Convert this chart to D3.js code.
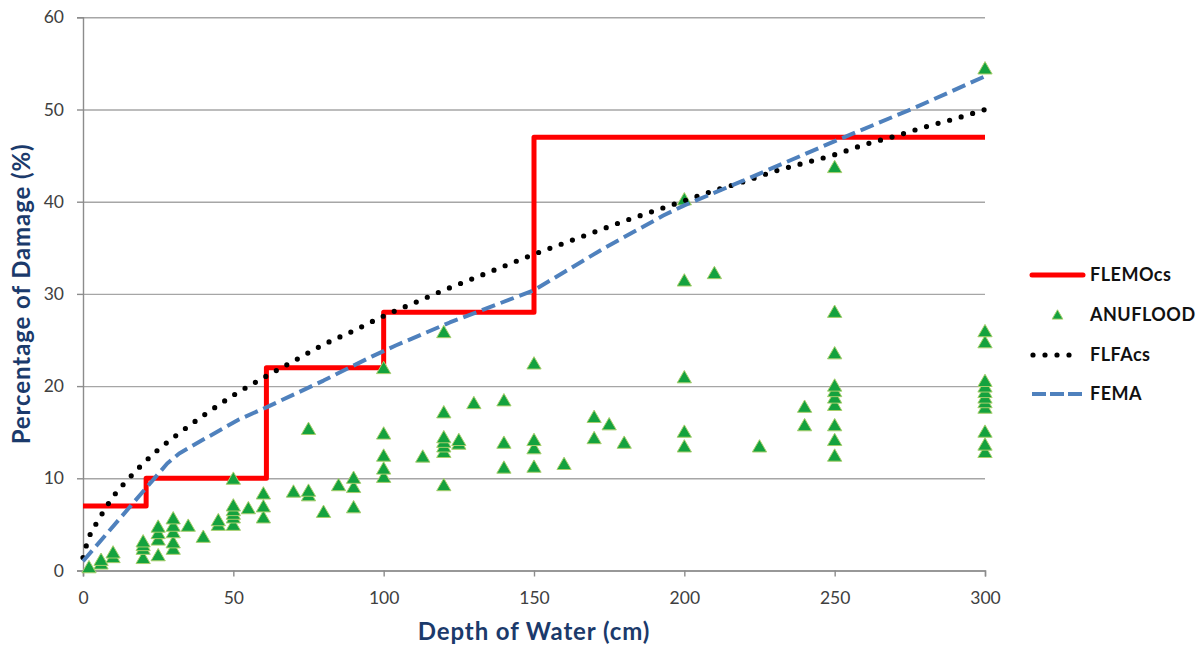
<!DOCTYPE html>
<html>
<head>
<meta charset="utf-8">
<script src="https://cdn.jsdelivr.net/npm/d3@7"></script>
<style>
  html, body { margin: 0; padding: 0; background: #fff; }
  svg { display: block; font-family: Lato, "Open Sans", sans-serif; }
</style>
</head>
<body>
<svg id="chart" width="1203" height="648"></svg>
<script>
// ---------- data ----------
const xTicks = [0, 50, 100, 150, 200, 250, 300];
const yTicks = [0, 10, 20, 30, 40, 50, 60];

// FLEMOcs step function (depth cm, damage %)
const flemoDepth  = [0, 21, 21, 61, 61, 100, 100, 150, 150, 300];
const flemoDamage = [7, 7, 10, 10, 22, 22, 28, 28, 47, 47];

// ANUFLOOD observed points
const anuDepth = [
  2, 6, 6, 10, 10,
  20, 20, 20, 20,
  25, 25, 25, 25,
  30, 30, 30, 30, 30,
  35, 40, 45, 45,
  50, 50, 50, 50, 50, 50,
  55, 60, 60, 60,
  70, 75, 75, 75, 80, 85, 90, 90, 90,
  100, 100, 100, 100, 100,
  113,
  120, 120, 120, 120, 120, 120, 120,
  125, 125, 130,
  140, 140, 140,
  150, 150, 150, 150,
  160, 170, 170, 175, 180,
  200, 200, 200, 200, 200,
  210, 225, 240, 240,
  250, 250, 250, 250, 250, 250, 250, 250, 250, 250,
  300, 300, 300, 300, 300, 300, 300, 300, 300, 300, 300, 300
];
const anuDamage = [
  0.2, 0.6, 1.0, 1.3, 1.8,
  1.2, 2.2, 2.6, 3.0,
  1.5, 3.2, 3.9, 4.6,
  2.2, 2.9, 4.0, 4.7, 5.5,
  4.7, 3.5, 4.8, 5.3,
  4.8, 5.6, 6.0, 6.4, 6.9, 9.8,
  6.6, 5.6, 6.8, 8.2,
  8.4, 8.0, 8.5, 15.2, 6.2, 9.1, 6.7, 8.9, 9.9,
  10.0, 10.9, 12.3, 14.7, 21.8,
  12.2,
  9.1, 12.7, 13.3, 13.8, 14.3, 17.0, 25.7,
  13.6, 14.0, 18.0,
  11.0, 13.7, 18.3,
  11.1, 13.1, 14.0, 22.3,
  11.4, 14.2, 16.5, 15.7, 13.7,
  13.3, 14.9, 20.8, 31.3, 40.1,
  32.1, 13.3, 15.6, 17.6,
  12.3, 14.0, 15.6, 17.8, 18.6, 19.3, 19.9, 23.4, 27.9, 43.6,
  12.7, 13.5, 14.9, 17.5, 18.1, 18.6, 19.2, 19.8, 20.4, 24.6, 25.8, 54.3
];

// FLFAcs curve
const flfaDepth = [0, 2, 5, 10, 15, 20, 25, 30, 40, 50, 60, 70, 80, 90, 100,
  110, 120, 130, 140, 150, 160, 170, 180, 190, 200,
  210, 220, 230, 240, 250, 260, 270, 280, 290, 300];
const flfaDamage = [1.4, 3.6, 5.4, 8.0, 9.9, 11.6, 13.1, 14.4, 16.8, 19.0, 20.9, 22.7, 24.5, 26.0, 27.6,
  29.0, 30.4, 31.7, 33.0, 34.3, 35.5, 36.7, 37.9, 39.0, 40.1,
  41.2, 42.2, 43.3, 44.2, 45.1, 46.2, 47.1, 48.1, 49.0, 50.0];

// FEMA curve
const femaDepth  = [0, 28, 32, 40, 52, 61, 80, 96, 104, 122, 150, 173, 193, 200, 219, 251, 276, 300];
const femaDamage = [1.0, 11.6, 12.7, 14.2, 16.4, 17.7, 20.6, 23.2, 24.4, 26.9, 30.4, 34.9, 38.5, 39.6, 42.2, 46.7, 50.1, 53.6];

const seriesNames = ["FLEMOcs", "ANUFLOOD", "FLFAcs", "FEMA"];

// ---------- layout ----------
const svg = d3.select("#chart");
const x = d3.scaleLinear().domain([0, 300]).range([83, 985]);
const y = d3.scaleLinear().domain([0, 60]).range([570.5, 17.3]);

const gridColor = "#A6A6A6";
const axisColor = "#8C8C8C";
const tickTextColor = "#404040";
const titleColor = "#1B3A6B";

// gridlines
svg.append("g")
  .attr("transform", `translate(${x(0)},0)`)
  .call(d3.axisLeft(y).tickValues(yTicks).tickSize(-(x(300) - x(0))).tickFormat(""))
  .call(g => g.select(".domain").remove())
  .call(g => g.selectAll("line").attr("stroke", gridColor).attr("stroke-width", 1.4));

// y axis
svg.append("g")
  .attr("transform", `translate(${x(0)},0)`)
  .call(d3.axisLeft(y).tickValues(yTicks).tickSize(6).tickPadding(13))
  .call(g => g.select(".domain").attr("stroke", axisColor).attr("stroke-width", 1.4))
  .call(g => g.selectAll("line").attr("stroke", axisColor).attr("stroke-width", 1.4))
  .call(g => g.selectAll("text").attr("fill", tickTextColor)
     .style("font-size", "17.5px").style("font-family", "Lato, sans-serif"));

// x axis
svg.append("g")
  .attr("transform", `translate(0,${y(0)})`)
  .call(d3.axisBottom(x).tickValues(xTicks).tickSize(6).tickPadding(15))
  .call(g => g.select(".domain").attr("stroke", axisColor).attr("stroke-width", 1.4))
  .call(g => g.selectAll("line").attr("stroke", axisColor).attr("stroke-width", 1.4))
  .call(g => g.selectAll("text").attr("fill", tickTextColor)
     .style("font-size", "17.5px").style("font-family", "Lato, sans-serif"));

// axis titles
svg.append("text")
  .attr("x", (x(0) + x(300)) / 2).attr("y", 640)
  .attr("text-anchor", "middle")
  .attr("fill", titleColor)
  .style("font-size", "24px").style("font-weight", "bold").style("letter-spacing", "0.9px")
  .text("Depth of Water (cm)");

svg.append("text")
  .attr("transform", `translate(30,${(y(0) + y(60)) / 2}) rotate(-90)`)
  .attr("text-anchor", "middle")
  .attr("fill", titleColor)
  .style("font-size", "24px").style("font-weight", "bold").style("letter-spacing", "0.9px")
  .text("Percentage of Damage (%)");

// ---------- series ----------
const zip = (a, b) => a.map((d, i) => [d, b[i]]);

const lineLinear = d3.line().x(d => x(d[0])).y(d => y(d[1]));
const lineSmooth = d3.line().x(d => x(d[0])).y(d => y(d[1])).curve(d3.curveMonotoneX);

// FLEMOcs
svg.append("path")
  .datum(zip(flemoDepth, flemoDamage))
  .attr("d", lineLinear)
  .attr("fill", "none").attr("stroke", "#FF0000").attr("stroke-width", 5)
  .attr("stroke-linejoin", "round");

// ANUFLOOD
const tri = d3.symbol().type(d3.symbolTriangle).size(88);
svg.append("g").selectAll("path")
  .data(zip(anuDepth, anuDamage))
  .join("path")
  .attr("transform", d => `translate(${x(d[0])},${y(d[1])})`)
  .attr("d", tri)
  .attr("fill", "#14A23E").attr("stroke", "#A8CE6C").attr("stroke-width", 1);

// FLFAcs
svg.append("path")
  .datum(zip(flfaDepth, flfaDamage))
  .attr("d", lineSmooth)
  .attr("fill", "none").attr("stroke", "#000").attr("stroke-width", 5.2)
  .attr("stroke-linecap", "round").attr("stroke-dasharray", "0,12");

// FEMA
svg.append("path")
  .datum(zip(femaDepth, femaDamage))
  .attr("d", lineLinear)
  .attr("fill", "none").attr("stroke", "#4F81BD").attr("stroke-width", 4)
  .attr("stroke-linejoin", "round")
  .attr("stroke-dasharray", "14,6");

// ---------- legend ----------
const lx0 = 1032, lx1 = 1083, ltx = 1090;
const rows = [275, 315, 355, 394];
const lg = svg.append("g");

lg.append("line").attr("x1", lx0).attr("x2", lx1).attr("y1", rows[0]).attr("y2", rows[0])
  .attr("stroke", "#FF0000").attr("stroke-width", 5).attr("stroke-linecap", "round");
lg.append("path").attr("transform", `translate(${(lx0 + lx1) / 2},${rows[1] + 1})`)
  .attr("d", d3.symbol().type(d3.symbolTriangle).size(50))
  .attr("fill", "#14A23E").attr("stroke", "#A8CE6C").attr("stroke-width", 1);
lg.append("line").attr("x1", lx0 + 1).attr("x2", lx0 + 49).attr("y1", rows[2]).attr("y2", rows[2])
  .attr("stroke", "#000").attr("stroke-width", 5.2).attr("stroke-linecap", "round")
  .attr("stroke-dasharray", "0,12");
lg.append("line").attr("x1", lx0).attr("x2", lx0 + 50).attr("y1", rows[3]).attr("y2", rows[3])
  .attr("stroke", "#4F81BD").attr("stroke-width", 4).attr("stroke-dasharray", "14,4");

lg.selectAll("text.lbl")
  .data(seriesNames)
  .join("text")
  .attr("class", "lbl")
  .attr("x", ltx)
  .attr("y", (d, i) => rows[i])
  .attr("dy", "0.36em")
  .attr("fill", "#111")
  .style("font-size", "18px").style("font-weight", "bold").style("letter-spacing", "0.5px")
  .text(d => d);
</script>
</body>
</html>
